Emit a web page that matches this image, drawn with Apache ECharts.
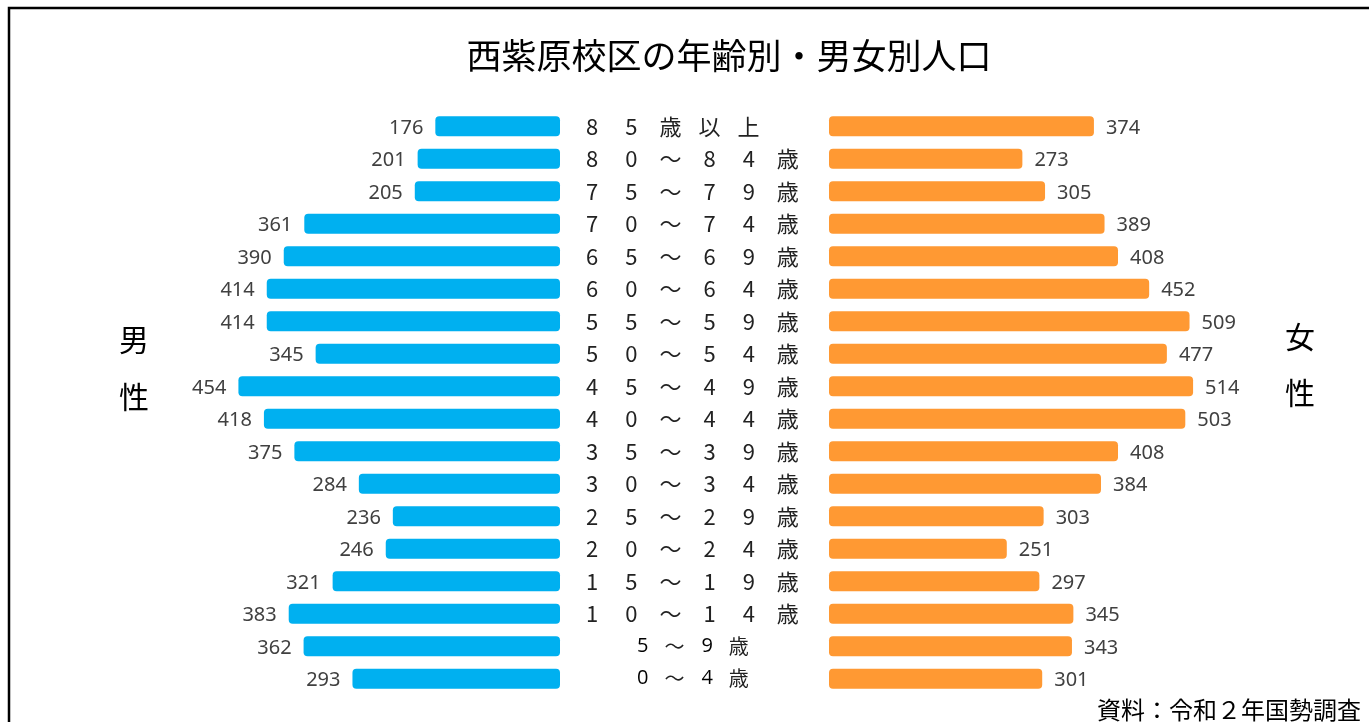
<!DOCTYPE html>
<html>
<head>
<meta charset="utf-8">
<script src="https://cdn.jsdelivr.net/npm/echarts@6/dist/echarts.min.js"></script>
<style>
  html, body { margin: 0; padding: 0; background: #fff; }
  #chart { width: 1369px; height: 722px; }
</style>
</head>
<body>
<div id="chart"></div>
<script>
// 年齢区分（上から）
const ageGroups = ['85歳以上', '80～84歳', '75～79歳', '70～74歳', '65～69歳', '60～64歳',
  '55～59歳', '50～54歳', '45～49歳', '40～44歳', '35～39歳', '30～34歳',
  '25～29歳', '20～24歳', '15～19歳', '10～14歳', '5～9歳', '0～4歳']
const male = [176, 201, 205, 361, 390, 414, 414, 345, 454, 418, 375, 284, 236, 246, 321, 383, 362, 293]
const female = [374, 273, 305, 389, 408, 452, 509, 477, 514, 503, 408, 384, 303, 251, 297, 345, 343, 301]

const FONT = '"Noto Sans CJK JP", "Noto Sans", sans-serif'

// 均等割付風に1文字ずつ並べる
function spaced(v) {
  const wide = v.length >= 5
  let out = wide ? '' : '{p| }'
  for (const c of Array.from(v)) {
    const isNum = /[0-9]/.test(c)
    const key = wide ? (isNum ? 'd' : 'k') : (isNum ? 'sd' : 'sk')
    out += '{' + key + '|' + c + '}'
  }
  return out
}

const chart = echarts.init(document.getElementById('chart'))
chart.setOption({
  backgroundColor: '#fff',
  animation: false,
  textStyle: { fontFamily: FONT },
  graphic: [{
    type: 'rect',
    shape: { x: 9, y: 8, width: 1500, height: 900 },
    style: { fill: 'none', stroke: '#000', lineWidth: 2.5 }
  }],
  title: [
    {
      text: '西紫原校区の年齢別・男女別人口',
      left: 724, top: 33, textAlign: 'center',
      textStyle: { fontSize: 35, fontWeight: 'normal', color: '#000', fontFamily: FONT }
    },
    {
      text: '男\n性',
      left: 129, top: 306, textAlign: 'center',
      textStyle: { fontSize: 30, lineHeight: 57, fontWeight: 'normal', color: '#000', fontFamily: FONT }
    },
    {
      text: '女\n性',
      left: 1295, top: 304, textAlign: 'center',
      textStyle: { fontSize: 30, lineHeight: 56, fontWeight: 'normal', color: '#000', fontFamily: FONT }
    },
    {
      text: '資料：令和２年国勢調査',
      right: 3, top: 693,
      textStyle: { fontSize: 24, fontWeight: 'normal', color: '#000', fontFamily: FONT }
    }
  ],
  grid: [
    { left: 135, width: 425, top: 110, height: 585 },
    { left: 829, width: 425, top: 110, height: 585 }
  ],
  xAxis: [
    { type: 'value', gridIndex: 0, min: 0, max: 600, inverse: true, show: false },
    { type: 'value', gridIndex: 1, min: 0, max: 600, show: false }
  ],
  yAxis: [
    {
      type: 'category', gridIndex: 0, data: ageGroups, inverse: true, position: 'right',
      axisLine: { show: false }, axisTick: { show: false },
      axisLabel: {
        margin: 12, formatter: spaced,
        rich: {
          d: { fontSize: 22, color: '#222', padding: [0, 13, 0, 14], fontFamily: FONT },
          k: { fontSize: 22, color: '#222', padding: [0, 8, 0, 9], fontFamily: FONT },
          p: { width: 54, fontSize: 20 },
          sd: { fontSize: 20, color: '#000', padding: [0, 10, 0, 11], fontFamily: '"Open Sans", sans-serif' },
          sk: { fontSize: 20, color: '#222', padding: [0, 6, 0, 6], fontFamily: FONT }
        }
      }
    },
    {
      type: 'category', gridIndex: 1, data: ageGroups, inverse: true, show: false
    }
  ],
  series: [
    {
      name: '男性', type: 'bar', xAxisIndex: 0, yAxisIndex: 0, data: male,
      barWidth: 20,
      itemStyle: { color: '#00b0f0', borderRadius: 4 },
      label: {
        show: true, position: 'left', distance: 12, offset: [0, 2],
        fontSize: 20, color: '#404040', fontFamily: '"Noto Sans", sans-serif'
      }
    },
    {
      name: '女性', type: 'bar', xAxisIndex: 1, yAxisIndex: 1, data: female,
      barWidth: 20,
      itemStyle: { color: '#ff9933', borderRadius: 4 },
      label: {
        show: true, position: 'right', distance: 12, offset: [0, 2],
        fontSize: 20, color: '#404040', fontFamily: '"Noto Sans", sans-serif'
      }
    }
  ]
})
</script>
</body>
</html>
